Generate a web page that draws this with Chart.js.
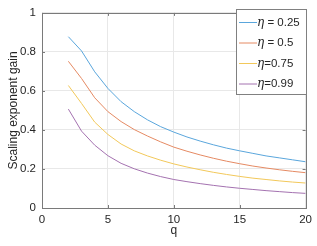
<!DOCTYPE html>
<html>
<head>
<meta charset="utf-8">
<script src="https://cdn.jsdelivr.net/npm/chart.js@4/dist/chart.umd.min.js"></script>
<style>
  html, body { margin: 0; padding: 0; background: #fff; }
  #wrap { width: 317px; height: 246px; }
</style>
</head>
<body>
<div id="wrap"><canvas id="gainChart" width="317" height="246"></canvas></div>
<script>
const qValues = [2, 3, 4, 5, 6, 7, 8, 9, 10, 11, 12, 13, 14, 15, 16, 17, 18, 19, 20];
const gainEta025 = [0.878, 0.805, 0.698, 0.613, 0.545, 0.494, 0.452, 0.417, 0.389, 0.364, 0.343, 0.324, 0.307, 0.293, 0.280, 0.267, 0.257, 0.247, 0.237];
const gainEta05 = [0.752, 0.664, 0.565, 0.494, 0.443, 0.402, 0.369, 0.339, 0.312, 0.291, 0.272, 0.255, 0.240, 0.227, 0.215, 0.205, 0.196, 0.188, 0.181];
const gainEta075 = [0.628, 0.536, 0.440, 0.377, 0.328, 0.293, 0.267, 0.245, 0.226, 0.210, 0.196, 0.183, 0.172, 0.162, 0.153, 0.146, 0.139, 0.133, 0.128];
const gainEta099 = [0.507, 0.394, 0.322, 0.268, 0.229, 0.201, 0.179, 0.161, 0.146, 0.135, 0.125, 0.116, 0.108, 0.101, 0.095, 0.089, 0.084, 0.079, 0.075];
const seriesLabels = ["η = 0.25", "η = 0.5", "η=0.75", "η=0.99"];
const xTicks = [0, 5, 10, 15, 20];
const yTicks = [0, 0.2, 0.4, 0.6, 0.8, 1];

const colors = ["#5aa6dc", "#e58a63", "#f2c85a", "#a472b0"];
const allSeries = [gainEta025, gainEta05, gainEta075, gainEta099];

function toPoints(ys) {
  return qValues.map((q, i) => ({ x: q, y: ys[i] }));
}

// matlab style: box, inward ticks, legend inside the axes
const matlabBox = {
  id: "matlabBox",
  afterDraw(chart) {
    const ctx = chart.ctx;
    const a = chart.chartArea;
    const xs = chart.scales.x;
    const ys = chart.scales.y;
    ctx.save();
    ctx.strokeStyle = "#7a7a7a";
    ctx.lineWidth = 1;
    ctx.beginPath();
    xTicks.forEach((t) => {
      const px = Math.round(xs.getPixelForValue(t)) + 0.5;
      ctx.moveTo(px, a.bottom); ctx.lineTo(px, a.bottom - 3);
      ctx.moveTo(px, a.top); ctx.lineTo(px, a.top + 3);
    });
    yTicks.forEach((t) => {
      const py = Math.round(ys.getPixelForValue(t)) + 0.5;
      ctx.moveTo(a.left, py); ctx.lineTo(a.left + 3, py);
      ctx.moveTo(a.right, py); ctx.lineTo(a.right - 3, py);
    });
    ctx.stroke();
    ctx.strokeRect(Math.round(a.left) + 0.5, Math.round(a.top) + 0.5,
      Math.round(a.right - a.left), Math.round(a.bottom - a.top));

    // legend
    const lx = 236.5, ly = 9.5, lw = Math.round(a.right) - 236, lh = 85;
    ctx.fillStyle = "#fff";
    ctx.fillRect(lx, ly, lw, lh);
    ctx.strokeStyle = "#808080";
    ctx.strokeRect(lx, ly, lw, lh);
    ctx.textBaseline = "middle";
    chart.data.datasets.forEach((ds, i) => {
      const cy = 22.5 + i * 20.5;
      ctx.strokeStyle = ds.borderColor;
      ctx.beginPath();
      ctx.moveTo(239, cy); ctx.lineTo(257, cy);
      ctx.stroke();
      ctx.fillStyle = "#262626";
      ctx.font = "italic 12px 'DejaVu Serif'";
      ctx.fillText(ds.label.charAt(0), 257, cy);
      const w = ctx.measureText(ds.label.charAt(0)).width;
      ctx.font = "11.5px 'Liberation Sans'";
      ctx.fillText(ds.label.slice(1), 257 + w, cy);
    });
    ctx.restore();
  }
};

new Chart(document.getElementById("gainChart").getContext("2d"), {
  type: "line",
  data: {
    datasets: allSeries.map((ys, i) => ({
      label: seriesLabels[i],
      data: toPoints(ys),
      borderColor: colors[i],
      borderWidth: 1,
      pointRadius: 0,
      tension: 0,
      fill: false,
    })),
  },
  options: {
    responsive: false,
    animation: false,
    layout: { padding: { top: 9, right: 10, left: 0, bottom: 0 } },
    plugins: {
      legend: { display: false },
      tooltip: { enabled: false },
    },
    scales: {
      x: {
        type: "linear",
        min: 0,
        max: 20,
        afterBuildTicks: (s) => { s.ticks = xTicks.map((v) => ({ value: v })); },
        afterFit: (s) => { s.height = 38; },
        grid: { color: "#e8e8e8", drawTicks: false },
        border: { display: false },
        ticks: { color: "#262626", font: { family: "Liberation Sans", size: 11.5 }, padding: 5, maxRotation: 0 },
        title: { display: true, text: "q", color: "#262626", font: { family: "Liberation Sans", size: 12 }, padding: { top: 0, bottom: 8 } },
      },
      y: {
        min: 0,
        max: 1,
        afterBuildTicks: (s) => { s.ticks = yTicks.map((v) => ({ value: v })); },
        afterFit: (s) => { s.width = 42; },
        grid: { color: "#e8e8e8", drawTicks: false },
        border: { display: false },
        ticks: { color: "#262626", font: { family: "Liberation Sans", size: 11.5 }, padding: 6, callback: (v) => String(v) },
        title: { display: true, text: "Scaling exponent gain", color: "#262626", font: { family: "Liberation Sans", size: 12 }, padding: { top: 6, bottom: 0 } },
      },
    },
  },
  plugins: [matlabBox],
});
</script>
</body>
</html>
